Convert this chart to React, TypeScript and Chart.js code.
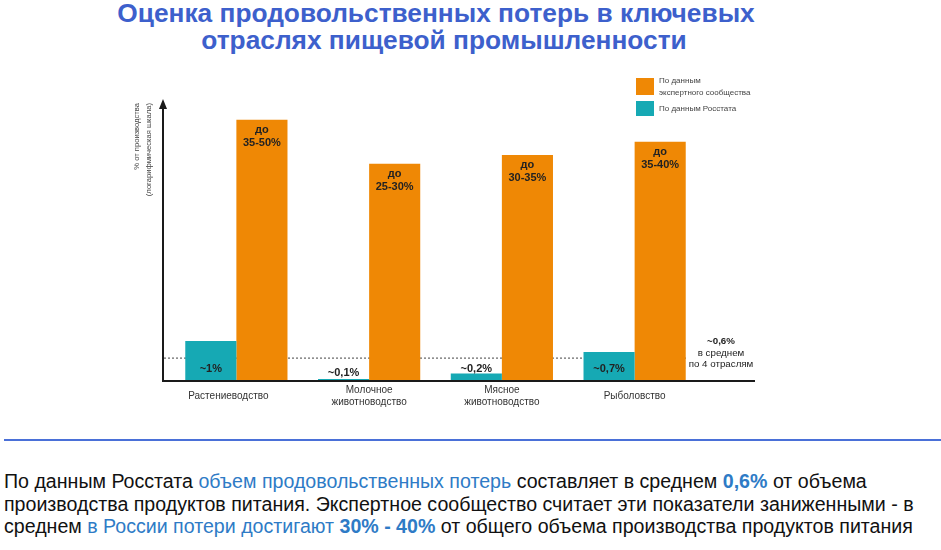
import React, { useEffect, useRef } from "react";
import { Chart, registerables } from "chart.js";

Chart.register(...registerables);

// Categories (multi-line labels)
const categories: string[][] = [
  ["Растениеводство"],
  ["Молочное", "животноводство"],
  ["Мясное", "животноводство"],
  ["Рыболовство"],
];

// Series names
const expertName = ["По данным", "экспертного сообщества"];
const rosstatName = ["По данным Росстата"];

// Value labels as printed on the chart
const expertLabels: string[][] = [
  ["до", "35-50%"],
  ["до", "25-30%"],
  ["до", "30-35%"],
  ["до", "35-40%"],
];
const rosstatLabels: string[] = ["~1%", "~0,1%", "~0,2%", "~0,7%"];

// Bar heights as drawn in the picture (share of the axis height, 0..100);
// the source axis is a stylised "logarithmic" scale with no numeric ticks
const expertHeights: number[] = [92.6, 77.0, 80.1, 84.8];
const rosstatHeights: number[] = [14.2, 0.7, 2.7, 10.3];

// Average line
const averageHeight = 8.3;
const averageLabel: string[] = ["~0,6%", "в среднем", "по 4 отраслям"];

const yTitle: string[] = ["% от производства", "(логарифмическая шкала)"];

const ORANGE = "#EF8805";
const TEAL = "#16A9B4";
const FONT = "'Liberation Sans', Arial, Helvetica, sans-serif";

const overlay = {
  id: "overlay",
  beforeDatasetsDraw(chart: any) {
    const { ctx, chartArea, scales } = chart;
    const y = scales.y.getPixelForValue(averageHeight);
    ctx.save();
    ctx.strokeStyle = "#444";
    ctx.lineWidth = 1;
    ctx.setLineDash([2, 2]);
    ctx.beginPath();
    ctx.moveTo(chartArea.left - 6, y + 0.5);
    ctx.lineTo(chartArea.right - 14, y + 0.5);
    ctx.stroke();
    ctx.restore();
  },
  afterDatasetsDraw(chart: any) {
    const { ctx, chartArea, scales } = chart;
    const xs = scales.x;
    const base = chartArea.bottom;
    const axisX = chartArea.left - 7;
    ctx.save();

    // axes
    ctx.strokeStyle = "#1a1a1a";
    ctx.fillStyle = "#1a1a1a";
    ctx.lineWidth = 2;
    ctx.beginPath();
    ctx.moveTo(axisX, base);
    ctx.lineTo(axisX, chartArea.top + 6);
    ctx.stroke();
    ctx.beginPath();
    ctx.moveTo(axisX, chartArea.top);
    ctx.lineTo(axisX - 4, chartArea.top + 10);
    ctx.lineTo(axisX + 4, chartArea.top + 10);
    ctx.closePath();
    ctx.fill();
    ctx.beginPath();
    ctx.moveTo(axisX - 1, base);
    ctx.lineTo(chartArea.right + 54, base);
    ctx.stroke();

    // category labels
    ctx.fillStyle = "#333";
    ctx.font = `10px ${FONT}`;
    ctx.textAlign = "center";
    ctx.textBaseline = "middle";
    categories.forEach((lines, i) => {
      const cx = xs.getPixelForValue(i) - (i === 0 ? 8 : 0);
      const lh = 11.5;
      const y0 = base + 15 - ((lines.length - 1) * lh) / 2;
      lines.forEach((t, j) => ctx.fillText(t, cx, y0 + j * lh));
    });

    // value labels
    const metaR = chart.getDatasetMeta(0);
    const metaE = chart.getDatasetMeta(1);
    ctx.fillStyle = "#222";
    ctx.font = `bold 11px ${FONT}`;
    metaR.data.forEach((bar: any, i: number) => {
      const ly = Math.max(base - 12, bar.y - 6);
      ctx.fillText(rosstatLabels[i], bar.x, ly);
    });
    metaE.data.forEach((bar: any, i: number) => {
      const lines = expertLabels[i];
      lines.forEach((t, j) => ctx.fillText(t, bar.x, bar.y + 10 + j * 13));
    });

    // average annotation
    const ax = chartArea.right + 20;
    const ay = scales.y.getPixelForValue(averageHeight);
    ctx.font = `bold 9.75px ${FONT}`;
    ctx.fillText(averageLabel[0], ax, ay - 16);
    ctx.font = `9.75px ${FONT}`;
    ctx.fillText(averageLabel[1], ax, ay - 4);
    ctx.fillText(averageLabel[2], ax, ay + 7);

    // legend
    const lx = 636;
    ctx.textAlign = "left";
    ctx.fillStyle = ORANGE;
    ctx.fillRect(lx, 18, 18, 17);
    ctx.fillStyle = TEAL;
    ctx.fillRect(lx, 41, 18, 15);
    ctx.fillStyle = "#444";
    ctx.font = `8px ${FONT}`;
    ctx.fillText(expertName[0], lx + 23, 21);
    ctx.fillText(expertName[1], lx + 23, 33);
    ctx.fillText(rosstatName[0], lx + 23, 49);

    // y title
    ctx.save();
    ctx.translate(axisX - 20, chartArea.top + 4);
    ctx.rotate(-Math.PI / 2);
    ctx.textAlign = "right";
    ctx.fillStyle = "#444";
    ctx.font = `7.6px ${FONT}`;
    ctx.fillText(yTitle[0], 0, -6);
    ctx.fillText(yTitle[1], 0, 6);
    ctx.restore();

    ctx.restore();
  },
};

function ChartCanvas() {
  const ref = useRef<HTMLCanvasElement | null>(null);
  useEffect(() => {
    if (!ref.current) return;
    const chart = new Chart(ref.current, {
      type: "bar",
      data: {
        labels: categories.map((c) => c.join(" ")),
        datasets: [
          {
            label: rosstatName.join(" "),
            data: rosstatHeights,
            backgroundColor: TEAL,
            borderWidth: 0,
            categoryPercentage: 0.77,
            barPercentage: 1,
          },
          {
            label: expertName.join(" "),
            data: expertHeights,
            backgroundColor: ORANGE,
            borderWidth: 0,
            categoryPercentage: 0.77,
            barPercentage: 1,
          },
        ],
      },
      options: {
        animation: false,
        responsive: false,
        maintainAspectRatio: false,
        layout: { padding: { left: 170, right: 240, top: 39, bottom: 49 } },
        plugins: { legend: { display: false }, tooltip: { enabled: false } },
        scales: {
          x: { display: false },
          y: { display: false, min: 0, max: 100 },
        },
      },
      plugins: [overlay],
    });
    return () => chart.destroy();
  }, []);
  return (
    <canvas
      ref={ref}
      width={941}
      height={370}
      style={{ position: "absolute", left: 0, top: 60, width: 941, height: 370 }}
    />
  );
}

const blue = "#2E7BC6";

export default function App() {
  return (
    <div
      style={{
        position: "absolute",
        left: 0,
        top: 0,
        width: 941,
        height: 550,
        background: "#fff",
        overflow: "hidden",
        fontFamily: FONT,
      }}
    >
      <div
        style={{
          position: "absolute",
          left: 0,
          top: 0,
          width: 880,
          textAlign: "center",
          color: "#3D60CC",
          fontWeight: "bold",
          fontSize: 26.3,
          lineHeight: "27px",
          whiteSpace: "nowrap",
        }}
      >
        <div style={{ marginLeft: -8 }}>Оценка продовольственных потерь в ключевых</div>
        <div style={{ marginLeft: 8 }}>отраслях пищевой промышленности</div>
      </div>
      <ChartCanvas />
      <div
        style={{
          position: "absolute",
          left: 4,
          right: 0,
          top: 439,
          height: 2,
          background: "#4A70D8",
        }}
      />
      <div
        style={{
          position: "absolute",
          left: 4,
          top: 470,
          width: 937,
          fontSize: 19.6,
          lineHeight: "22.5px",
          color: "#111",
          whiteSpace: "nowrap",
        }}
      >
        По данным Росстата <span style={{ color: blue }}>объем продовольственных потерь</span> составляет в среднем{" "}
        <b style={{ color: blue }}>0,6%</b> от объема
        <br />
        производства продуктов питания. Экспертное сообщество считает эти показатели заниженными - в
        <br />
        среднем <span style={{ color: blue }}>в России потери достигают</span>{" "}
        <b style={{ color: blue }}>30% - 40%</b> от общего объема производства продуктов питания
      </div>
    </div>
  );
}
